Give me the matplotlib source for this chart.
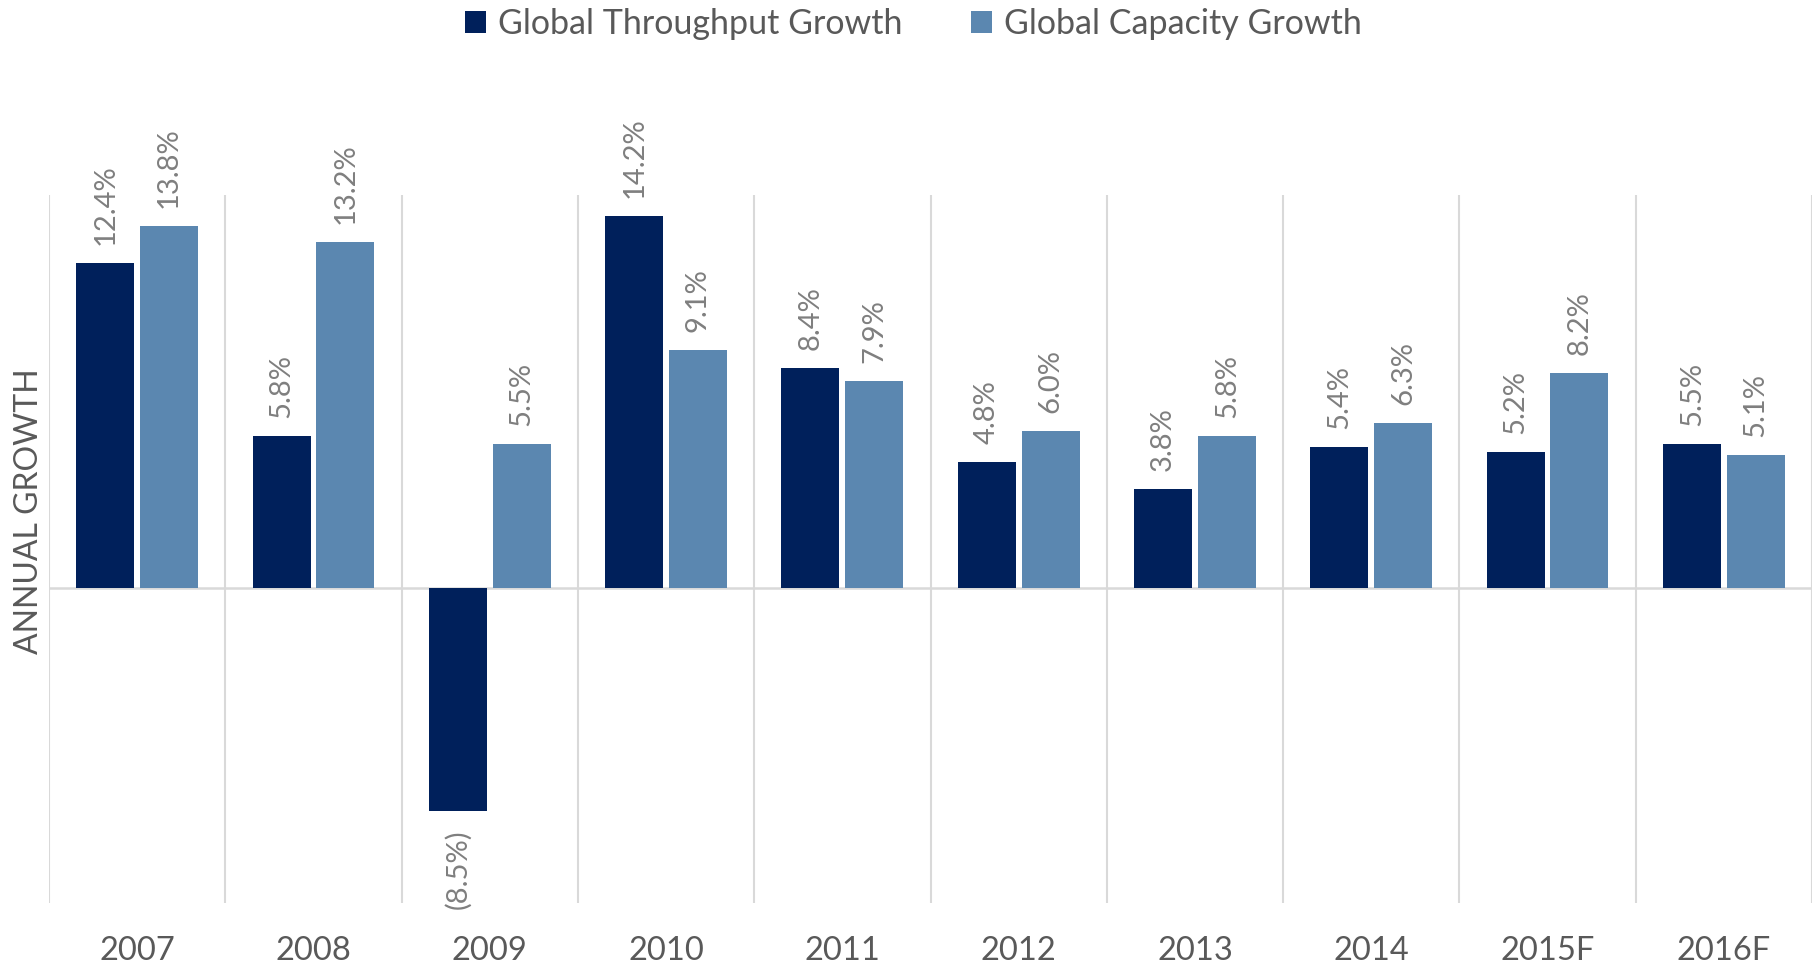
import matplotlib
matplotlib.use("Agg")
import matplotlib.pyplot as plt
from matplotlib.patches import Patch
import numpy as np

categories = ["2007", "2008", "2009", "2010", "2011", "2012", "2013", "2014", "2015F", "2016F"]
throughput = [12.4, 5.8, -8.5, 14.2, 8.4, 4.8, 3.8, 5.4, 5.2, 5.5]
capacity = [13.8, 13.2, 5.5, 9.1, 7.9, 6.0, 5.8, 6.3, 8.2, 5.1]
series_names = ["Global Throughput Growth", "Global Capacity Growth"]
colors = ["#00205B", "#5B87B0"]

plt.rcParams['font.family'] = ['Lato', 'DejaVu Sans']

W, H = 1816, 971
fig = plt.figure(figsize=(W / 100, H / 100), dpi=100)
ax = fig.add_axes([49 / W, 1 - 903 / H, (1812 - 49) / W, (903 - 195) / H])

x = np.arange(len(categories))
bw = 0.329
off = 0.181
b1 = ax.bar(x - off, throughput, bw, color=colors[0], edgecolor="none", zorder=3)
b2 = ax.bar(x + off, capacity, bw, color=colors[1], edgecolor="none", zorder=3)

ax.set_xlim(-0.5, len(categories) - 0.5)
ax.set_ylim(-12, 15)

grid_c = "#D9D9D9"
for b in np.arange(-0.5, len(categories), 1.0):
    ax.axvline(b, color=grid_c, lw=1.5, zorder=1)
ax.axhline(0, color=grid_c, lw=1.8, zorder=2)

for s in ax.spines.values():
    s.set_visible(False)
ax.set_yticks([])
ax.set_xticks(x)
ax.set_xticklabels(categories, fontsize=23.5, color="#595959")
ax.tick_params(axis="x", length=0, pad=24)

def fmt(v):
    return f"({abs(v):.1f}%)" if v < 0 else f"{v:.1f}%"

for bars, vals in ((b1, throughput), (b2, capacity)):
    for rect, v in zip(bars, vals):
        cx = rect.get_x() + rect.get_width() / 2
        if v >= 0:
            ax.annotate(fmt(v), (cx, v), xytext=(0, 13), textcoords="offset points",
                        rotation=90, ha="center", va="bottom", fontsize=21, color="#7F7F7F")
        else:
            ax.annotate(fmt(v), (cx, v), xytext=(0, -13), textcoords="offset points",
                        rotation=90, ha="center", va="top", fontsize=21, color="#7F7F7F")

fig.text(29 / W, 1 - 511 / H, "ANNUAL GROWTH", rotation=90, ha="center", va="center",
         fontsize=23, color="#595959")

handles = [Patch(facecolor=colors[0]), Patch(facecolor=colors[1])]
fig.legend(handles, series_names, loc="center", bbox_to_anchor=(913.5 / W, 1 - 24 / H),
           ncol=2, frameon=False, fontsize=24.5, labelcolor="#595959",
           handlelength=0.62, handleheight=0.62, handletextpad=0.35, columnspacing=2.0,
           borderaxespad=0, borderpad=0)

fig.savefig("out.png", dpi=100)
